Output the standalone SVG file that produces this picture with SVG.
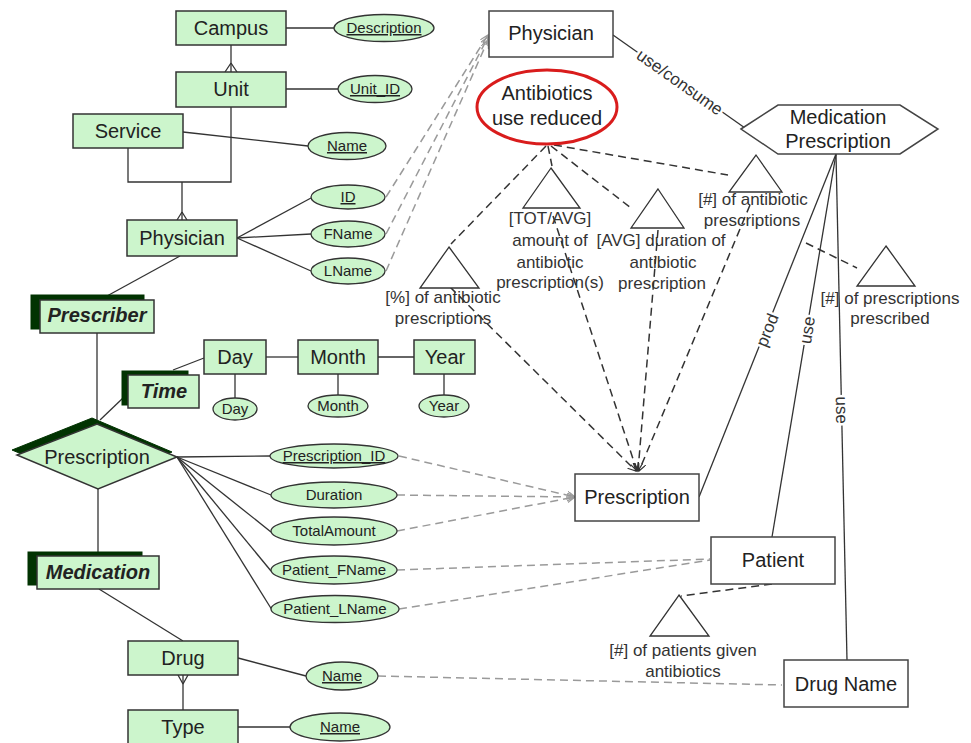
<svg xmlns="http://www.w3.org/2000/svg" width="971" height="743" viewBox="0 0 971 743">
<style>
.ent{fill:#ccf5cc;stroke:#333;stroke-width:1.5}
.shd{fill:#013301;stroke:#013301;stroke-width:1}
.att{fill:#ccf5cc;stroke:#333;stroke-width:1.3}
.wbox{fill:#fff;stroke:#444;stroke-width:1.5}
.tri{fill:#fff;stroke:#333;stroke-width:1.3}
.ln{stroke:#333;stroke-width:1.3;fill:none}
.gd{stroke:#9a9a9a;stroke-width:1.5;stroke-dasharray:8 5;fill:none}
.bd{stroke:#333;stroke-width:1.5;stroke-dasharray:8 5;fill:none}
text{font-family:"Liberation Sans",Arial,sans-serif;text-anchor:middle;fill:#222}
.t20{font-size:20px}
.t15{font-size:15px}
.t17{font-size:17px;fill:#333}
.bi{font-weight:bold;font-style:italic}
.u{text-decoration:underline}
.lbl{font-size:17px;fill:#333;stroke:#fff;stroke-width:5;paint-order:stroke}
</style>
<defs>
<marker id="ag" markerWidth="10" markerHeight="10" refX="8" refY="4" orient="auto" markerUnits="userSpaceOnUse"><path d="M0,0 L8,4 L0,8" fill="none" stroke="#9a9a9a" stroke-width="1.2"/></marker>
<marker id="ab" markerWidth="10" markerHeight="10" refX="8" refY="4" orient="auto" markerUnits="userSpaceOnUse"><path d="M0,0 L8,4 L0,8" fill="none" stroke="#333" stroke-width="1.2"/></marker>
</defs>
<rect width="971" height="743" fill="#fff"/>

<g id="connectors">
<line class="ln" x1="286" y1="28" x2="334" y2="28"/>
<line class="ln" x1="231" y1="45" x2="231" y2="72"/>
<path class="ln" d="M231,63 L225,72 M231,63 L237,72"/>
<line class="ln" x1="286" y1="89" x2="338" y2="89"/>
<line class="ln" x1="183" y1="132" x2="308" y2="146"/>
<path class="ln" d="M128,148 V182 H231 V107"/>
<line class="ln" x1="182" y1="182" x2="182" y2="220"/>
<path class="ln" d="M182,212 L177,220 M182,212 L187,220"/>
<line class="ln" x1="237" y1="238" x2="311" y2="198"/>
<line class="ln" x1="237" y1="238" x2="311" y2="234"/>
<line class="ln" x1="237" y1="238" x2="311" y2="271"/>
<line class="ln" x1="180" y1="256" x2="107" y2="296"/>
<line class="ln" x1="97" y1="333" x2="97" y2="420"/>
<line class="ln" x1="100" y1="420" x2="123" y2="398"/>
<line class="ln" x1="173" y1="370" x2="204" y2="358"/>
<line class="ln" x1="266" y1="357" x2="298" y2="357"/>
<line class="ln" x1="378" y1="357" x2="414" y2="357"/>
<line class="ln" x1="235" y1="374" x2="235" y2="399"/>
<line class="ln" x1="338" y1="374" x2="338" y2="395"/>
<line class="ln" x1="444" y1="374" x2="444" y2="395"/>
<line class="ln" x1="177" y1="457" x2="270" y2="456"/>
<line class="ln" x1="177" y1="457" x2="271" y2="495"/>
<line class="ln" x1="177" y1="457" x2="271" y2="532"/>
<line class="ln" x1="177" y1="457" x2="271" y2="571"/>
<line class="ln" x1="177" y1="457" x2="272" y2="610"/>
<line class="ln" x1="98" y1="489" x2="98" y2="553"/>
<line class="ln" x1="99" y1="589" x2="183" y2="641"/>
<line class="ln" x1="238" y1="658" x2="306" y2="676"/>
<line class="ln" x1="183" y1="675" x2="183" y2="710"/>
<path class="ln" d="M183,684 L178,675 M183,684 L188,675"/>
<line class="ln" x1="238" y1="727" x2="290" y2="727"/>

<line class="gd" x1="386" y1="197" x2="488" y2="35" marker-end="url(#ag)"/>
<line class="gd" x1="386" y1="234" x2="488" y2="37" marker-end="url(#ag)"/>
<line class="gd" x1="386" y1="271" x2="488" y2="40" marker-end="url(#ag)"/>
<line class="gd" x1="399" y1="456" x2="575" y2="497" marker-end="url(#ag)"/>
<line class="gd" x1="397" y1="495" x2="575" y2="497" marker-end="url(#ag)"/>
<line class="gd" x1="397" y1="531" x2="575" y2="497" marker-end="url(#ag)"/>
<line class="gd" x1="397" y1="570" x2="710" y2="559"/>
<line class="gd" x1="399" y1="609" x2="710" y2="560"/>
<line class="gd" x1="378" y1="676" x2="782" y2="685"/>

<line class="bd" x1="546" y1="146" x2="451" y2="244"/>
<line class="bd" x1="548" y1="146" x2="552" y2="166"/>
<line class="bd" x1="551" y1="146" x2="631" y2="208"/>
<line class="bd" x1="554" y1="145" x2="728" y2="175"/>
<line class="bd" x1="450" y1="287" x2="636" y2="471" marker-end="url(#ab)"/>
<line class="bd" x1="553" y1="216" x2="637" y2="471" marker-end="url(#ab)"/>
<line class="bd" x1="658" y1="230" x2="638" y2="471" marker-end="url(#ab)"/>
<line class="bd" x1="750" y1="205" x2="639" y2="471" marker-end="url(#ab)"/>
<line class="bd" x1="806" y1="243" x2="857" y2="268"/>
<line class="bd" x1="772" y1="584" x2="681" y2="596"/>

<line class="ln" x1="613" y1="35" x2="745" y2="128"/>
<line class="ln" x1="836" y1="154" x2="699" y2="497"/>
<line class="ln" x1="836" y1="154" x2="772" y2="537"/>
<line class="ln" x1="836" y1="154" x2="847" y2="660"/>
<text class="lbl" transform="translate(680,82) rotate(35.2)" y="6">use/consume</text>
<text class="lbl" transform="translate(767,330) rotate(-68.2)" y="6">prod</text>
<text class="lbl" transform="translate(807,330) rotate(-80.5)" y="6">use</text>
<text class="lbl" transform="translate(842,410) rotate(88.8)" y="6">use</text>
</g>

<g id="campus"><rect class="ent" x="176" y="11" width="110" height="34"/><text class="t20" x="231" y="35">Campus</text></g>
<g id="campus-description"><ellipse class="att" cx="384" cy="28" rx="50" ry="13.5"/><text class="t15 u" x="384" y="33">Description</text></g>
<g id="unit"><rect class="ent" x="176" y="72" width="110" height="35"/><text class="t20" x="231" y="96">Unit</text></g>
<g id="unit-id"><ellipse class="att" cx="375" cy="89" rx="37" ry="13.5"/><text class="t15 u" x="375" y="94">Unit_ID</text></g>
<g id="service"><rect class="ent" x="73" y="114" width="110" height="34"/><text class="t20" x="128" y="138">Service</text></g>
<g id="service-name"><ellipse class="att" cx="347" cy="146" rx="39" ry="13.5"/><text class="t15 u" x="347" y="151">Name</text></g>
<g id="physician"><rect class="ent" x="127" y="220" width="110" height="36"/><text class="t20" x="182" y="245">Physician</text></g>
<g id="phys-id"><ellipse class="att" cx="348" cy="197" rx="37" ry="12"/><text class="t15 u" x="348" y="202">ID</text></g>
<g id="phys-fname"><ellipse class="att" cx="348" cy="234" rx="37" ry="13"/><text class="t15" x="348" y="239">FName</text></g>
<g id="phys-lname"><ellipse class="att" cx="348" cy="271" rx="37" ry="13"/><text class="t15" x="348" y="276">LName</text></g>

<g id="prescriber"><rect class="shd" x="31" y="295" width="113" height="34"/><rect class="ent" x="40" y="300" width="114" height="33"/><text class="t20 bi" x="97" y="322">Prescriber</text></g>
<g id="time"><rect class="shd" x="122" y="371" width="66" height="34"/><rect class="ent" x="128" y="375" width="71" height="33"/><text class="t20 bi" x="164" y="398">Time</text></g>
<g id="day"><rect class="ent" x="204" y="340" width="62" height="34"/><text class="t20" x="235" y="364">Day</text></g>
<g id="month"><rect class="ent" x="298" y="340" width="80" height="34"/><text class="t20" x="338" y="364">Month</text></g>
<g id="year"><rect class="ent" x="414" y="340" width="61" height="34"/><text class="t20" x="445" y="364">Year</text></g>
<g id="day-attr"><ellipse class="att" cx="235" cy="409" rx="22" ry="11"/><text class="t15" x="235" y="414">Day</text></g>
<g id="month-attr"><ellipse class="att" cx="338" cy="406" rx="30" ry="11"/><text class="t15" x="338" y="411">Month</text></g>
<g id="year-attr"><ellipse class="att" cx="444" cy="406" rx="25" ry="11"/><text class="t15" x="444" y="411">Year</text></g>

<g id="prescription-rel"><polygon class="shd" points="92,418 172,452 93,484 12,450"/><polygon class="ent" points="97,424 177,457 98,489 17,455"/><text class="t20" x="97" y="464">Prescription</text></g>
<g id="prescription-id"><ellipse class="att" cx="334" cy="456" rx="64" ry="12"/><text class="t15 u" x="334" y="461">Prescription_ID</text></g>
<g id="duration"><ellipse class="att" cx="334" cy="495" rx="63" ry="13"/><text class="t15" x="334" y="500">Duration</text></g>
<g id="totalamount"><ellipse class="att" cx="334" cy="531" rx="63" ry="14"/><text class="t15" x="334" y="536">TotalAmount</text></g>
<g id="patient-fname"><ellipse class="att" cx="334" cy="570" rx="63" ry="14"/><text class="t15" x="334" y="575">Patient_FName</text></g>
<g id="patient-lname"><ellipse class="att" cx="335" cy="609" rx="64" ry="13.5"/><text class="t15" x="335" y="614">Patient_LName</text></g>

<g id="medication"><rect class="shd" x="28" y="552" width="114" height="33"/><rect class="ent" x="37" y="556" width="122" height="33"/><text class="t20 bi" x="98" y="579">Medication</text></g>
<g id="drug"><rect class="ent" x="128" y="641" width="110" height="34"/><text class="t20" x="183" y="665">Drug</text></g>
<g id="drug-name"><ellipse class="att" cx="342" cy="676" rx="36" ry="14"/><text class="t15 u" x="342" y="681">Name</text></g>
<g id="type"><rect class="ent" x="128" y="710" width="110" height="36"/><text class="t20" x="183" y="734">Type</text></g>
<g id="type-name"><ellipse class="att" cx="340" cy="727" rx="50" ry="14"/><text class="t15 u" x="340" y="732">Name</text></g>

<g id="physician-dim"><rect class="wbox" x="489" y="11" width="124" height="46"/><text class="t20" x="551" y="40">Physician</text></g>
<g id="goal"><ellipse cx="547" cy="107" rx="70" ry="37" fill="#fff" stroke="#d91c1c" stroke-width="3"/><text class="t20" x="547" y="100">Antibiotics</text><text class="t20" x="547" y="125">use reduced</text></g>
<g id="medication-prescription"><polygon class="wbox" points="741,129 778,105 900,105 938,129 900,154 778,154"/><text class="t20" x="838" y="124">Medication</text><text class="t20" x="838" y="148">Prescription</text></g>
<g id="prescription-dim"><rect class="wbox" x="575" y="474" width="124" height="47"/><text class="t20" x="637" y="504">Prescription</text></g>
<g id="patient-dim"><rect class="wbox" x="711" y="537" width="124" height="47"/><text class="t20" x="773" y="567">Patient</text></g>
<g id="drugname-dim"><rect class="wbox" x="784" y="660" width="124" height="47"/><text class="t20" x="846" y="691">Drug Name</text></g>

<g id="m-pct"><polygon class="tri" points="449,247 479,288 420,288"/><text class="t17" x="443" y="303">[%] of antibiotic</text><text class="t17" x="443" y="324">prescriptions</text></g>
<g id="m-amount"><polygon class="tri" points="551,168 580,208 523,208"/><text class="t17" x="550" y="224">[TOT/AVG]</text><text class="t17" x="550" y="246">amount of</text><text class="t17" x="550" y="268">antibiotic</text><text class="t17" x="550" y="288">prescription(s)</text></g>
<g id="m-duration"><polygon class="tri" points="658,189 684,228 631,228"/><text class="t17" x="661" y="246">[AVG] duration of</text><text class="t17" x="663" y="268">antibiotic</text><text class="t17" x="662" y="289">prescription</text></g>
<g id="m-count"><polygon class="tri" points="756,155 782,192 729,192"/><text class="t17" x="753" y="205">[#] of antibiotic</text><text class="t17" x="752" y="226">prescriptions</text></g>
<g id="m-prescribed"><polygon class="tri" points="886,246 915,286 857,286"/><text class="t17" x="890" y="304">[#] of prescriptions</text><text class="t17" x="890" y="324">prescribed</text></g>
<g id="m-patients"><polygon class="tri" points="679,595 709,636 650,636"/><text class="t17" x="683" y="656">[#] of patients given</text><text class="t17" x="683" y="677">antibiotics</text></g>
</svg>
